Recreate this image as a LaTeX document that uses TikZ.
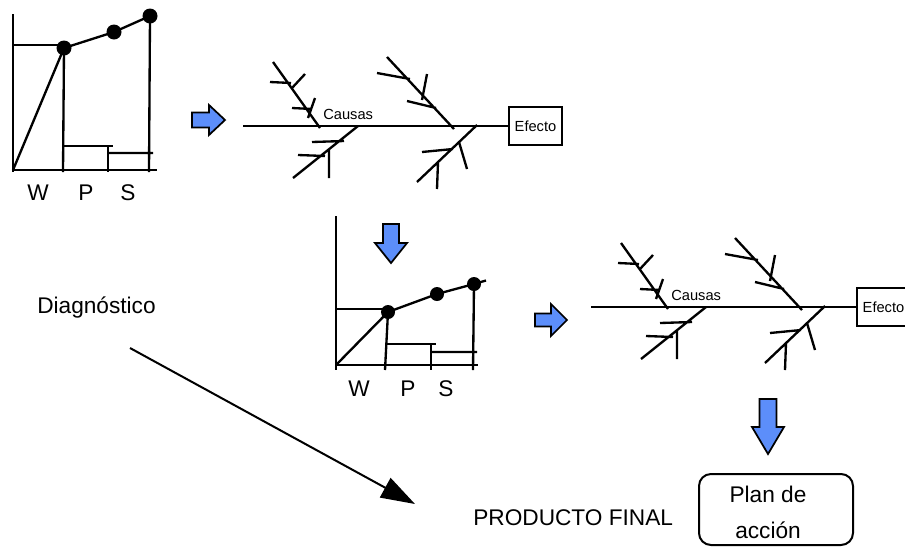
\documentclass[tikz,border=0pt]{standalone}
\usepackage{fontspec}
\setmainfont{Liberation Sans}
\usetikzlibrary{arrows.meta}
\definecolor{azul}{RGB}{92,142,250}

% espina de pescado (causas -> efecto), en px
\newcommand{\espina}[1]{%
	\node[efecto] (efecto#1) at (535.5,126) {Efecto};
	\coordinate (cola#1) at (243,126);
	\draw[hueso] (cola#1) -- (efecto#1.west);
	\node[chico, anchor=base west] (causas#1) at (323,119.5) {Causas};
	% espinas de arriba
	\draw[hueso] (273,62) -- (320,128) (270,82) -- (291,83) (305,74) -- (292,88)
		(292,108) -- (312,109) (315,98) -- (308,118);
	\draw[hueso] (387,57) -- (454,129) (377,73) -- (410,79) (427,74) -- (422,100)
		(407,101) -- (436,108);
	% espinas de abajo
	\draw[hueso] (358,126) -- (293,178) (312,142) -- (344,141) (298,155) -- (325,156)
		(329,150) -- (329,178);
	\draw[hueso] (477,125) -- (417,182) (422,152) -- (453,149) (459,142) -- (467,169)
		(438,162) -- (437,189);
}

\begin{document}
\begin{tikzpicture}[
		x=0.75pt, y=-0.75pt,
		linea/.style={line width=1.75pt},
		hueso/.style={line width=1.75pt},
		punto/.style={circle,fill,inner sep=0pt,minimum size=#1},
		grande/.style={font=\fontsize{17}{20}\selectfont, inner sep=0pt},
		chico/.style={font=\fontsize{11}{13}\selectfont, inner sep=0pt},
		efecto/.style={draw, line width=1.6pt, minimum width=39.75pt,
			minimum height=28.5pt, chico},
		flecha/.style={fill=azul, draw, line width=1.3pt, line join=miter},
		flechagrande/.style={line width=1.5pt, -{Triangle[length=25.5pt,width=16.5pt]}}
		]
	\useasboundingbox (0,0) rectangle (905,547);
	\clip (0,0) rectangle (905,547);

	% pareto de arriba
	\draw[linea] (13,14) -- (13,172);
	\draw[linea] (13,170) -- (157,170);
	\draw[linea] (13,45) -- (63,45);
	\node[punto=11.25pt] (p1) at (64,48) {};
	\node[punto=11.25pt] (p2) at (114,32) {};
	\node[punto=11.25pt] (p3) at (150,16) {};
	\draw[linea] (13,170) -- (p1.center) -- (p2.center) -- (p3.center);
	\draw[linea] (p1.center) -- (63,172);
	\draw[linea] (63,146) -- (113,146) (108,146) -- (108,172);
	\draw[linea] (108,153) -- (153,153) (p3.center) -- (149,172);
	\node[grande, anchor=base] (w1) at (38,200) {W};
	\node[grande, anchor=base] (pp1) at (86,200) {P};
	\node[grande, anchor=base] (s1) at (128,200) {S};

	\draw[flecha] (192,112.5) -- (209,112.5) -- (209,105) -- (225,120) -- (209,135)
		-- (209,127.5) -- (192,127.5) -- cycle;

	\espina{1}

	% pareto de abajo
	\draw[flecha] (383,224) -- (399,224) -- (399,243) -- (407,243) -- (391,263)
		-- (375,243) -- (383,243) -- cycle;
	\draw[linea] (336,216) -- (336,370);
	\draw[linea] (336,365) -- (478,365);
	\draw[linea] (336,309) -- (386,309);
	\node[punto=10.5pt] (q1) at (388,312) {};
	\node[punto=10.5pt] (q2) at (437,294) {};
	\node[punto=10.5pt] (q3) at (474,284) {};
	\draw[linea] (336,365) -- (q1.center) -- (q2.center) -- (q3.center) -- (486,280.5);
	\draw[linea] (q1.center) -- (385,370);
	\draw[linea] (385,344) -- (436,344) (431,344) -- (431,370);
	\draw[linea] (431,352) -- (477,352) (q3.center) -- (473,370);
	\node[grande, anchor=base] (w2) at (359,396.7) {W};
	\node[grande, anchor=base] (pp2) at (408,396.7) {P};
	\node[grande, anchor=base] (s2) at (446,396.7) {S};

	\draw[flecha] (535,313.5) -- (551,313.5) -- (551,304) -- (567,320) -- (551,336)
		-- (551,326.5) -- (535,326.5) -- cycle;

	\begin{scope}[shift={(348,181)}]
		\espina{2}
	\end{scope}

	\draw[flecha] (759.5,399) -- (776.5,399) -- (776.5,427) -- (784,427) -- (768,454)
		-- (752,427) -- (759.5,427) -- cycle;

	% diagnostico y producto final
	\node[grande, anchor=base west] (diagnostico) at (37,313.3) {Diagnóstico};
	\coordinate (desde) at (130,348);
	\coordinate (hacia) at (415,504);
	\draw[flechagrande] (desde) -- (hacia);
	\node[grande, anchor=base west] (producto) at (473,525) {PRODUCTO FINAL};
	\node[draw, line width=1.5pt, rounded corners=9pt, minimum width=115.5pt,
		minimum height=53.25pt] (marco) at (776,509.5) {};
	\node[grande, align=center, font=\fontsize{17}{27}\selectfont] (plan)
		at (768,512) {Plan de\\acción};
\end{tikzpicture}
\end{document}
